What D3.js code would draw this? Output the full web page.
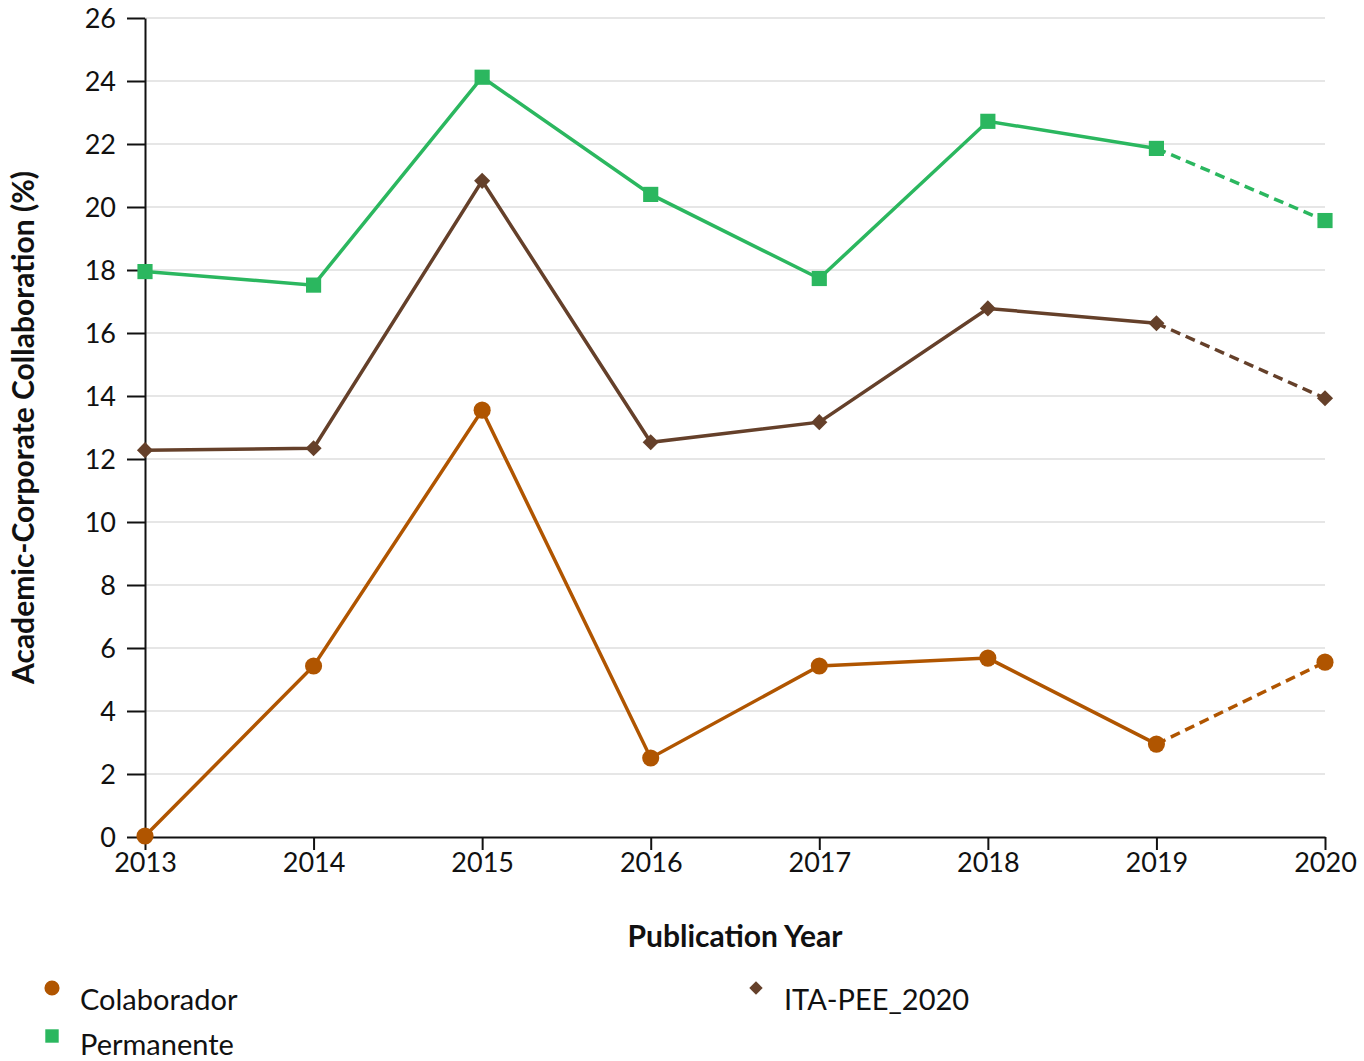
<!DOCTYPE html>
<html>
<head>
<meta charset="utf-8">
<script src="https://cdn.jsdelivr.net/npm/d3@7"></script>
<style>
  body { margin: 0; background: #fff; }
  text { font-family: Lato, "Open Sans", sans-serif; fill: #111; }
</style>
</head>
<body>
<main></main>
<script>
const years = [2013, 2014, 2015, 2016, 2017, 2018, 2019, 2020];
const yTicks = [0, 2, 4, 6, 8, 10, 12, 14, 16, 18, 20, 22, 24, 26];
const colaborador = [0.03, 5.43, 13.55, 2.51, 5.43, 5.68, 2.95, 5.55];
const permanente = [17.95, 17.52, 24.12, 20.4, 17.73, 22.72, 21.86, 19.57];
const itaPee = [12.28, 12.34, 20.83, 12.53, 13.17, 16.78, 16.31, 13.93];
const seriesNames = ['Colaborador', 'Permanente', 'ITA-PEE_2020'];
const seriesColors = ['#b05500', '#2bb75f', '#65402a'];
const seriesShapes = [d3.symbolCircle, d3.symbolSquare, d3.symbolSquare];
const seriesRotate = [0, 0, 45];

const w = 1364, h = 1061;
const m = {left: 145, right: 39, top: 18, bottom: 224};
const svg = d3.select('main').append('svg').attr('width', w).attr('height', h);

const x = d3.scaleLinear().domain([2013, 2020]).range([m.left, w - m.right]);
const y = d3.scaleLinear().domain([0, 26]).range([h - m.bottom, m.top]);

// grid
svg.append('g')
    .selectAll('line')
    .data(yTicks.filter(d => d > 0))
    .enter()
    .append('line')
    .attr('x1', x(2013))
    .attr('x2', x(2020))
    .attr('y1', d => y(d))
    .attr('y2', d => y(d))
    .attr('stroke', '#e6e6e6')
    .attr('stroke-width', 2);

// axes
const xAxis = svg.append('g')
    .attr('transform', `translate(0,${y(0)})`)
    .call(d3.axisBottom(x).tickValues(years).tickFormat(d3.format('d')).tickSize(13).tickSizeOuter(0));
const yAxis = svg.append('g')
    .attr('transform', `translate(${x(2013)},0)`)
    .call(d3.axisLeft(y).tickValues(yTicks).tickSize(18).tickSizeOuter(0));
[xAxis, yAxis].forEach(a => {
    a.select('.domain').attr('stroke', '#111').attr('stroke-width', 2);
    a.selectAll('.tick line').attr('stroke', '#111').attr('stroke-width', 2);
    a.selectAll('.tick text').attr('font-size', 27).attr('fill', '#111')
        .style('font-family', 'Lato, "Open Sans", sans-serif');
});
xAxis.selectAll('.tick text').attr('y', 16).attr('dy', '0.71em');
yAxis.selectAll('.tick text').attr('x', -29).attr('dy', '0.36em');

// titles
svg.append('text')
    .attr('x', (x(2013) + x(2020)) / 2)
    .attr('y', 947)
    .attr('text-anchor', 'middle')
    .attr('font-size', 30)
    .attr('font-weight', 'bold')
    .text('Publication Year');
svg.append('text')
    .attr('transform', `translate(34,${(y(0) + y(26)) / 2}) rotate(-90)`)
    .attr('text-anchor', 'middle')
    .attr('font-size', 30)
    .attr('font-weight', 'bold')
    .text('Academic-Corporate Collaboration (%)');

// series
const allSeries = [colaborador, permanente, itaPee];
const line = d3.line().x((d, i) => x(years[i])).y(d => y(d));
const lineDash = d3.line().x(d => x(d[0])).y(d => y(d[1]));
const drawOrder = [0, 2, 1];
drawOrder.forEach(k => {
    const vals = allSeries[k];
    const g = svg.append('g');
    g.append('path')
        .attr('d', line(vals.slice(0, 7)))
        .attr('fill', 'none')
        .attr('stroke', seriesColors[k])
        .attr('stroke-width', 3.5);
    g.append('path')
        .attr('d', lineDash([[years[6], vals[6]], [years[7], vals[7]]]))
        .attr('fill', 'none')
        .attr('stroke', seriesColors[k])
        .attr('stroke-width', 3.5)
        .attr('stroke-dasharray', '10,6');
    g.selectAll('path.pt')
        .data(vals)
        .enter()
        .append('path')
        .attr('class', 'pt')
        .attr('transform', (d, i) => `translate(${x(years[i])},${y(d)}) rotate(${seriesRotate[k]})`)
        .attr('d', d3.symbol().type(seriesShapes[k]).size(k === 2 ? 130 : 230))
        .attr('fill', seriesColors[k]);
});

// legend
const legendPos = [[52, 988, 80, 1010], [52, 1036, 80, 1055], [756, 988, 784, 1010]];
const legend = svg.append('g')
    .selectAll('g')
    .data(seriesNames)
    .enter()
    .append('g');
legend.append('path')
    .attr('transform', (d, i) => `translate(${legendPos[i][0]},${legendPos[i][1]}) rotate(${seriesRotate[i]})`)
    .attr('d', (d, i) => d3.symbol().type(seriesShapes[i]).size(i === 2 ? 90 : 180)())
    .attr('fill', (d, i) => seriesColors[i]);
legend.append('text')
    .attr('x', (d, i) => legendPos[i][2])
    .attr('y', (d, i) => legendPos[i][3])
    .attr('font-size', 29)
    .text(d => d);
</script>
</body>
</html>
